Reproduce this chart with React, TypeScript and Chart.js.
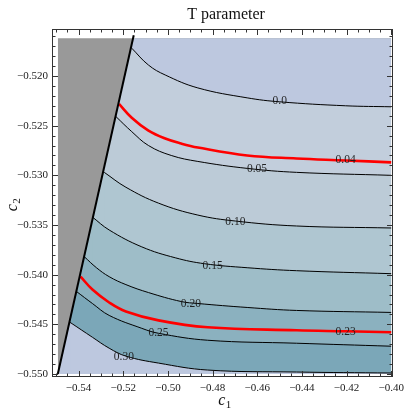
import React, { useEffect, useRef } from "react";
import { Chart, registerables } from "chart.js";

Chart.register(...registerables);

// ---- axes ----
const xTickValues = [-0.54, -0.52, -0.5, -0.48, -0.46, -0.44, -0.42, -0.4];
const xTickLabels = ["\u22120.54", "\u22120.52", "\u22120.50", "\u22120.48", "\u22120.46", "\u22120.44", "\u22120.42", "\u22120.40"];
const yTickValues = [-0.55, -0.545, -0.54, -0.535, -0.53, -0.525, -0.52];
const yTickLabels = ["\u22120.550", "\u22120.545", "\u22120.540", "\u22120.535", "\u22120.530", "\u22120.525", "\u22120.520"];
const xRange = [-0.5519, -0.3992];
const yRange = [-0.5503, -0.51527];

// ---- plotted region ----
const grayX = [-0.5493, -0.4];
const grayY = [-0.5162, -0.5162];
const regionX = [-0.5493, -0.5155, -0.4];
const regionY = [-0.55, -0.5162, -0.5162];
const edgeX = [-0.5493, -0.5153];
const edgeY = [-0.55, -0.5159];
const fillBase = -0.55;

// ---- contours ----
const c000X = [-0.5162, -0.5087, -0.5012, -0.4866, -0.4645, -0.4499, -0.4204, -0.4];
const c000Y = [-0.5172, -0.5189, -0.5199, -0.5212, -0.5222, -0.5226, -0.523, -0.5231];
const c004X = [-0.5219, -0.5162, -0.5087, -0.5012, -0.4941, -0.4866, -0.4645, -0.4424, -0.4204, -0.4];
const c004Y = [-0.5228, -0.5242, -0.5255, -0.5263, -0.5268, -0.5272, -0.528, -0.5283, -0.5285, -0.5287];
const c005X = [-0.5232, -0.5162, -0.5087, -0.4985, -0.4866, -0.4645, -0.4424, -0.4];
const c005Y = [-0.5241, -0.5256, -0.527, -0.528, -0.5286, -0.5293, -0.5297, -0.53];
const c010X = [-0.5285, -0.5188, -0.5042, -0.4866, -0.4698, -0.4424, -0.4];
const c010Y = [-0.5297, -0.5312, -0.5328, -0.534, -0.5346, -0.5351, -0.5353];
const c015X = [-0.5338, -0.5263, -0.5117, -0.4967, -0.4835, -0.4645, -0.4424, -0.4];
const c015Y = [-0.5342, -0.5355, -0.5372, -0.5383, -0.5389, -0.5393, -0.5396, -0.5399];
const c020X = [-0.5374, -0.532, -0.5263, -0.5188, -0.5087, -0.4941, -0.4866, -0.4645, -0.4424, -0.4];
const c020Y = [-0.5382, -0.5393, -0.5402, -0.541, -0.5418, -0.5427, -0.5429, -0.5433, -0.5436, -0.5438];
const c023X = [-0.5391, -0.5338, -0.5263, -0.5188, -0.5042, -0.4822, -0.4424, -0.4204, -0.4];
const c023Y = [-0.5402, -0.5415, -0.5428, -0.5437, -0.5446, -0.5453, -0.5456, -0.5457, -0.5458];
const c025X = [-0.5409, -0.5338, -0.5263, -0.5117, -0.5042, -0.4822, -0.4424, -0.4];
const c025Y = [-0.5417, -0.5429, -0.5441, -0.5454, -0.5459, -0.5466, -0.5469, -0.5472];
const c030X = [-0.5438, -0.5338, -0.5263, -0.5188, -0.5042, -0.4822, -0.4424, -0.4];
const c030Y = [-0.5448, -0.5463, -0.5474, -0.5482, -0.5489, -0.5496, -0.5498, -0.5499];

// ---- contour labels ----
const labelText = ["0.0", "0.04", "0.05", "0.10", "0.15", "0.20", "0.23", "0.25", "0.30"];
const labelX = [-0.4499, -0.4204, -0.4601, -0.4698, -0.48, -0.4897, -0.4204, -0.5042, -0.5197];
const labelY = [-0.5225, -0.5285, -0.5294, -0.5347, -0.5391, -0.5429, -0.5458, -0.5459, -0.5483];

// styles
const clipColor = "rgb(189,200,223)";
const grayColor = "rgb(153,153,153)";
const bandColors = [
  "rgb(194,206,220)",
  "rgb(188,203,215)",
  "rgb(175,198,209)",
  "rgb(158,189,200)",
  "rgb(139,177,191)",
  "rgb(123,167,184)",
  clipColor,
];
const TENSION = 0.4;

const pts = (xs: number[], ys: number[]) => xs.map((x, i) => ({ x, y: ys[i] }));

const bandContours = [
  [c000X, c000Y],
  [c005X, c005Y],
  [c010X, c010Y],
  [c015X, c015Y],
  [c020X, c020Y],
  [c025X, c025Y],
  [c030X, c030Y],
];

const SERIF = '"Liberation Serif", "Times New Roman", serif';

const overlay = {
  id: "overlay",
  afterDraw(chart: any) {
    const ctx = chart.ctx as CanvasRenderingContext2D;
    const xs = chart.scales.x;
    const ys = chart.scales.y;
    const { left, right, top, bottom } = chart.chartArea;
    ctx.save();
    // contour labels
    ctx.font = `11.5px ${SERIF}`;
    ctx.fillStyle = "rgba(25,25,25,0.95)";
    ctx.textAlign = "center";
    ctx.textBaseline = "middle";
    labelText.forEach((t, i) => {
      ctx.fillText(t, xs.getPixelForValue(labelX[i]), ys.getPixelForValue(labelY[i]));
    });
    // frame
    ctx.strokeStyle = "#333";
    ctx.lineWidth = 1;
    ctx.strokeRect(left + 0.5, top + 0.5, right - left - 1, bottom - top - 1);
    // ticks
    ctx.beginPath();
    for (let i = -111; i <= -79; i++) {
      const v = i * 0.005;
      const p = Math.round(xs.getPixelForValue(v)) + 0.5;
      if (p < left + 1 || p > right - 1) continue;
      const len = i % 4 === 0 ? 6 : 3.5;
      ctx.moveTo(p, bottom);
      ctx.lineTo(p, bottom - len);
      ctx.moveTo(p, top);
      ctx.lineTo(p, top + len);
    }
    for (let j = -551; j <= -515; j++) {
      const v = j * 0.001;
      const p = Math.round(ys.getPixelForValue(v)) + 0.5;
      if (p < top + 1 || p > bottom - 1) continue;
      const len = j % 5 === 0 ? 6 : 3.5;
      ctx.moveTo(left, p);
      ctx.lineTo(left + len, p);
      ctx.moveTo(right, p);
      ctx.lineTo(right - len, p);
    }
    ctx.stroke();
    // title
    ctx.fillStyle = "#111";
    ctx.textAlign = "center";
    ctx.textBaseline = "alphabetic";
    ctx.font = `16px ${SERIF}`;
    ctx.fillText("T parameter", 226, 19);
    // x axis title c1
    ctx.textAlign = "left";
    ctx.font = `italic 16px ${SERIF}`;
    const cw = ctx.measureText("c").width;
    ctx.font = `11px ${SERIF}`;
    const sw = ctx.measureText("1").width;
    const cx = (left + right) / 2 + 2 - (cw + sw) / 2;
    ctx.font = `italic 16px ${SERIF}`;
    ctx.fillText("c", cx, 405);
    ctx.font = `11px ${SERIF}`;
    ctx.fillText("1", cx + cw + 0.5, 408);
    // y axis title c2
    ctx.save();
    ctx.translate(17, (top + bottom) / 2 + 2);
    ctx.rotate(-Math.PI / 2);
    const sw2 = ctx.measureText("2").width;
    const sx = -(cw + sw2) / 2;
    ctx.font = `italic 16px ${SERIF}`;
    ctx.fillText("c", sx, 0);
    ctx.font = `11px ${SERIF}`;
    ctx.fillText("2", sx + cw + 0.5, 3);
    ctx.restore();
    ctx.restore();
  },
};

export default function App() {
  const ref = useRef<HTMLCanvasElement | null>(null);
  useEffect(() => {
    if (!ref.current) return;
    const datasets: any[] = [];
    const fillDs = (data: any[], color: string, order: number, tension: number) => ({
      data,
      borderColor: "rgba(0,0,0,0)",
      borderWidth: 0,
      backgroundColor: color,
      fill: { value: fillBase },
      pointRadius: 0,
      tension,
      order,
    });
    datasets.push(fillDs(pts(grayX, grayY), grayColor, 100, 0));
    datasets.push(fillDs(pts(regionX, regionY), clipColor, 90, 0));
    bandContours.forEach(([cx, cy], k) => {
      datasets.push(fillDs(pts(cx, cy), bandColors[k], 80 - k * 2, TENSION));
      const edgePiece = [
        { x: edgeX[0], y: edgeY[0] },
        { x: cx[0], y: cy[0] },
        { x: cx[1], y: cy[1] },
      ];
      datasets.push(fillDs(edgePiece, bandColors[k], 80 - k * 2, 0));
    });
    const lineDs = (xs: number[], ys: number[], color: string, width: number, order: number) => ({
      data: pts(xs, ys),
      borderColor: color,
      borderWidth: width,
      fill: false,
      pointRadius: 0,
      tension: TENSION,
      order,
    });
    bandContours.forEach(([cx, cy]) => datasets.push(lineDs(cx, cy, "#000", 1, 5)));
    datasets.push(lineDs(c004X, c004Y, "#ff0000", 2.6, 4));
    datasets.push(lineDs(c023X, c023Y, "#ff0000", 2.6, 4));
    datasets.push({
      data: pts(edgeX, edgeY),
      borderColor: "#000",
      borderWidth: 2,
      fill: false,
      pointRadius: 0,
      tension: 0,
      order: 1,
    });

    const chart = new Chart(ref.current, {
      type: "line",
      data: { datasets },
      options: {
        animation: false,
        responsive: false,
        devicePixelRatio: 1,
        layout: { padding: { top: 29, right: 11, left: 0, bottom: 0 } },
        plugins: { legend: { display: false }, tooltip: { enabled: false }, title: { display: false } },
        elements: { point: { radius: 0 } },
        scales: {
          x: {
            type: "linear",
            min: xRange[0],
            max: xRange[1],
            grid: { display: false, drawTicks: false },
            border: { display: false },
            afterBuildTicks: (s: any) => {
              s.ticks = xTickValues.map((v) => ({ value: v }));
            },
            afterFit: (s: any) => {
              s.height = 33;
            },
            ticks: {
              autoSkip: false,
              maxRotation: 0,
              padding: 5,
              color: "#1a1a1a",
              font: { family: SERIF, size: 11 },
              callback: (v: any) => {
                const i = xTickValues.findIndex((t) => Math.abs(t - v) < 1e-9);
                return i >= 0 ? xTickLabels[i] : "";
              },
            },
          },
          y: {
            type: "linear",
            min: yRange[0],
            max: yRange[1],
            grid: { display: false, drawTicks: false },
            border: { display: false },
            afterBuildTicks: (s: any) => {
              s.ticks = yTickValues.map((v) => ({ value: v }));
            },
            afterFit: (s: any) => {
              s.width = 52;
            },
            ticks: {
              autoSkip: false,
              padding: 4,
              color: "#1a1a1a",
              font: { family: SERIF, size: 11 },
              callback: (v: any) => {
                const i = yTickValues.findIndex((t) => Math.abs(t - v) < 1e-9);
                return i >= 0 ? yTickLabels[i] : "";
              },
            },
          },
        },
      },
      plugins: [overlay],
    } as any);
    return () => chart.destroy();
  }, []);
  return (
    <div style={{ position: "fixed", left: 0, top: 0, width: 409, height: 410 }}>
      <canvas ref={ref} width={409} height={410} style={{ display: "block" }} />
    </div>
  );
}
